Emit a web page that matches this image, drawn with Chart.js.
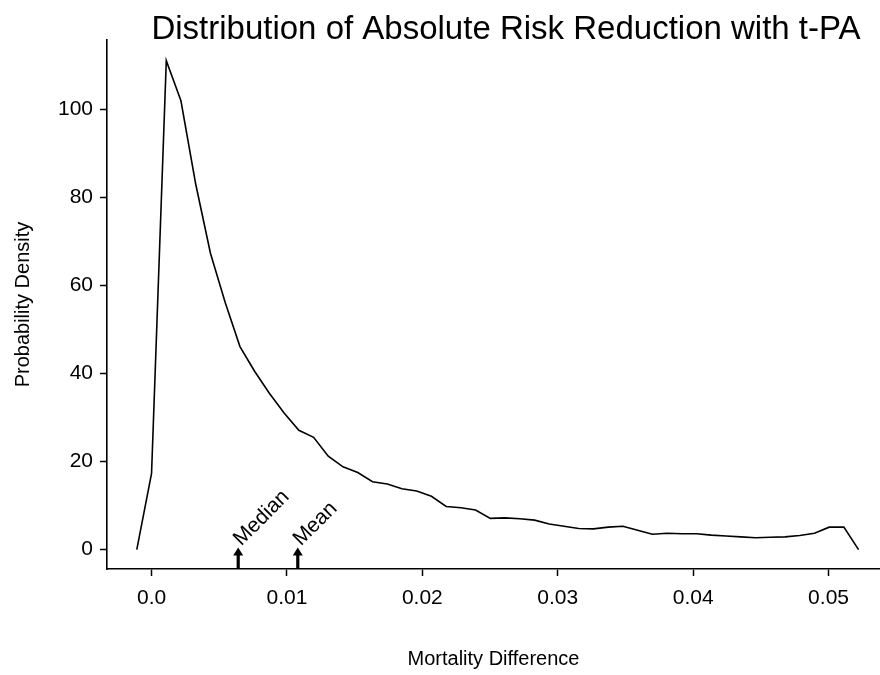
<!DOCTYPE html>
<html>
<head>
<meta charset="utf-8">
<script src="https://cdn.jsdelivr.net/npm/chart.js@4/dist/chart.umd.min.js"></script>
<style>
html,body{margin:0;padding:0;background:#fff;overflow:hidden}
#wrap{width:880px;height:675px;position:relative}
</style>
</head>
<body>
<div id="wrap"><canvas id="c" width="880" height="675"></canvas></div>
<script>
const chartTitle = 'Distribution of Absolute Risk Reduction with t-PA';
const xAxisTitle = 'Mortality Difference';
const yAxisTitle = 'Probability Density';

const mortalityDiff = [
  -0.00109, 0.00000, 0.00109, 0.00217, 0.00326, 0.00435, 0.00544, 0.00653, 0.00761, 0.00870,
  0.00979, 0.01088, 0.01197, 0.01305, 0.01414, 0.01523, 0.01632, 0.01741, 0.01849, 0.01958,
  0.02067, 0.02176, 0.02285, 0.02393, 0.02502, 0.02611, 0.02720, 0.02829, 0.02937, 0.03046,
  0.03155, 0.03264, 0.03373, 0.03481, 0.03590, 0.03699, 0.03808, 0.03917, 0.04025, 0.04134,
  0.04243, 0.04352, 0.04461, 0.04569, 0.04678, 0.04787, 0.04896, 0.05005, 0.05113, 0.05222
];
const density = [
  0.0, 17.3, 111.0, 101.9, 83.0, 67.3, 56.1, 46.1, 40.5, 35.5,
  31.0, 27.1, 25.5, 21.2, 18.8, 17.5, 15.4, 14.9, 13.8, 13.3,
  12.1, 9.8, 9.5, 9.0, 7.1, 7.2, 7.0, 6.7, 5.8, 5.3,
  4.8, 4.7, 5.1, 5.3, 4.4, 3.5, 3.7, 3.6, 3.6, 3.3,
  3.1, 2.9, 2.7, 2.8, 2.9, 3.2, 3.7, 5.1, 5.1, 0.0
];

const xTickValues = [0, 0.01, 0.02, 0.03, 0.04, 0.05];
const xTickLabels = ['0.0', '0.01', '0.02', '0.03', '0.04', '0.05'];
const yTickValues = [0, 20, 40, 60, 80, 100];
const yTickLabels = ['0', '20', '40', '60', '80', '100'];

const markerNames = ['Median', 'Mean'];
const markerValues = [0.0064, 0.0108];
const arrowTipValue = 0.5;

const FONT = '"Liberation Sans", Arial, Helvetica, sans-serif';

const points = mortalityDiff.map((x, i) => ({ x: x, y: density[i] }));

const overlayPlugin = {
  id: 'overlay',
  afterDatasetsDraw(chart) {
    const ctx = chart.ctx;
    const xs = chart.scales.x, ys = chart.scales.y;
    const base = chart.chartArea.bottom;
    ctx.save();
    ctx.fillStyle = '#000';
    ctx.strokeStyle = '#000';
    markerValues.forEach((v, i) => {
      const px = xs.getPixelForValue(v);
      const tip = ys.getPixelForValue(arrowTipValue);
      ctx.lineWidth = 3.2;
      ctx.beginPath();
      ctx.moveTo(px, base);
      ctx.lineTo(px, tip + 6);
      ctx.stroke();
      ctx.beginPath();
      ctx.moveTo(px, tip);
      ctx.lineTo(px - 5, tip + 8);
      ctx.lineTo(px + 5, tip + 8);
      ctx.closePath();
      ctx.fill();
      ctx.save();
      ctx.translate(px - 1, tip - 5);
      ctx.rotate(-Math.PI / 4);
      ctx.font = '21px ' + FONT;
      ctx.textAlign = 'left';
      ctx.textBaseline = 'middle';
      ctx.fillText(markerNames[i], 0, 0);
      ctx.restore();
    });
    ctx.restore();
  },
  afterDraw(chart) {
    const ctx = chart.ctx;
    ctx.save();
    ctx.font = '33px ' + FONT;
    ctx.fillStyle = '#000';
    ctx.textAlign = 'center';
    ctx.textBaseline = 'middle';
    ctx.fillText(chartTitle, 506, 30);
    ctx.restore();
  }
};

new Chart(document.getElementById('c'), {
  type: 'scatter',
  data: {
    datasets: [{
      data: points,
      showLine: true,
      borderColor: '#000',
      backgroundColor: '#000',
      borderWidth: 1.6,
      pointRadius: 0,
      tension: 0
    }]
  },
  options: {
    responsive: false,
    animation: false,
    devicePixelRatio: 1,
    layout: { padding: { top: 40, right: 0, left: 0, bottom: 0 } },
    plugins: { legend: { display: false }, tooltip: { enabled: false }, title: { display: false } },
    scales: {
      x: {
        type: 'linear',
        min: -0.00329,
        max: 0.0538,
        afterBuildTicks: s => { s.ticks = xTickValues.map(v => ({ value: v })); },
        afterFit: s => { s.height = 106; },
        grid: { display: true, drawOnChartArea: false, drawTicks: true, tickLength: 7, color: '#000', tickWidth: 1.5 },
        border: { display: true, color: '#000', width: 1.6 },
        ticks: {
          color: '#000',
          font: { family: FONT, size: 21 },
          padding: 10,
          maxRotation: 0,
          autoSkip: false,
          callback: v => { const k = xTickValues.indexOf(v); return k >= 0 ? xTickLabels[k] : ''; }
        },
        title: { display: true, text: xAxisTitle, color: '#000', font: { family: FONT, size: 20 }, padding: { top: 0, bottom: 4 } }
      },
      y: {
        type: 'linear',
        min: -4.4,
        max: 115.7,
        afterBuildTicks: s => { s.ticks = yTickValues.map(v => ({ value: v })); },
        afterFit: s => { s.width = 107; },
        grid: { display: true, drawOnChartArea: false, drawTicks: true, tickLength: 7, color: '#000', tickWidth: 1.5 },
        border: { display: true, color: '#000', width: 1.6 },
        ticks: {
          color: '#000',
          font: { family: FONT, size: 21 },
          padding: 7,
          autoSkip: false,
          callback: v => { const k = yTickValues.indexOf(v); return k >= 0 ? yTickLabels[k] : ''; }
        },
        title: { display: true, text: yAxisTitle, color: '#000', font: { family: FONT, size: 20 }, padding: { top: 11, bottom: 0 } }
      }
    }
  },
  plugins: [overlayPlugin]
});
</script>
</body>
</html>
